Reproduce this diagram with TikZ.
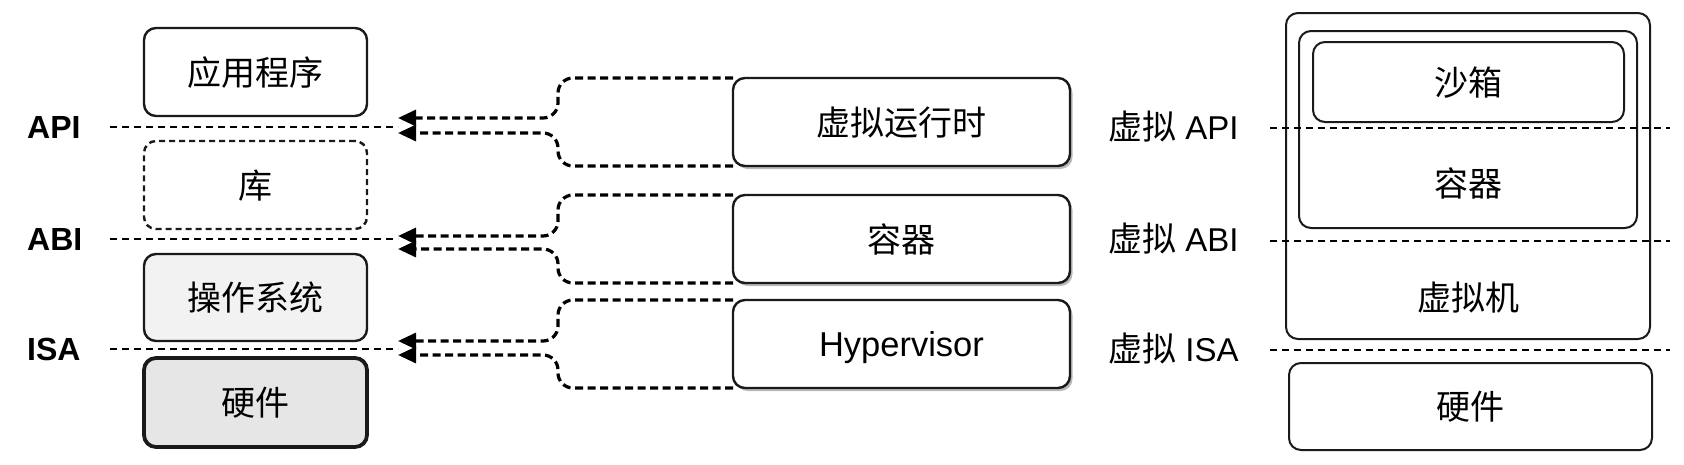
\documentclass[tikz,border=0pt]{standalone}
\usepackage{fontspec}
\setmainfont{Liberation Sans}
\newfontfamily\cjk{Noto Sans CJK SC}
\usetikzlibrary{arrows.meta,shadows}
\definecolor{osfill}{HTML}{F2F2F2}
\definecolor{hwfill}{HTML}{E6E6E6}
\definecolor{edge}{HTML}{1A1A1A}
\begin{document}
\begin{tikzpicture}[x=1pt,y=-1pt,
  txt/.style={font=\cjk\fontsize{34}{34}\selectfont, inner sep=0pt, text height=26pt, text depth=0pt},
  box/.style={txt, draw=edge, line width=2.4pt, rounded corners=12pt, outer sep=0pt},
  leftbox/.style={box, minimum width=223pt, minimum height=88pt},
  midbox/.style={box, minimum width=337pt, minimum height=88pt, fill=white,
    drop shadow={shadow xshift=2.5pt, shadow yshift=-3pt, fill=black!45, opacity=0.6}},
  rbox/.style={draw=edge, line width=2pt, rounded corners=12pt, inner sep=0pt, outer sep=0pt},
  level/.style={line width=2.2pt, dash pattern=on 7pt off 5pt},
  conn/.style={line width=3.2pt, dash pattern=on 8pt off 4.5pt, rounded corners=15pt,
    -{Triangle[length=18pt,width=16pt]}},
  lvlbold/.style={font=\bfseries\fontsize{32}{32}\selectfont, inner sep=0pt, anchor=base west},
  lvlreg/.style={font=\fontsize{33}{33}\selectfont, inner sep=0pt, anchor=base west},
]
\useasboundingbox (0,0) rectangle (1684,464);

% ---------- left stack ----------
\node[leftbox] (app) at (255.5,72) {应用程序};
\node[leftbox, dashed, dash pattern=on 6pt off 4pt] (lib) at (255.5,185) {库};
\node[leftbox, fill=osfill, minimum height=87pt] (os) at (255.5,297.5) {操作系统};
\node[leftbox, fill=hwfill, line width=3.8pt, minimum height=89pt] (hw) at (255.5,402.5) {硬件};

\node[lvlbold] (lapi) at (27,138.5) {API};
\node[lvlbold] (labi) at (27,250.5) {ABI};
\node[lvlbold] (lisa) at (27,360.5) {ISA};

\coordinate (apiL) at (110,127); \coordinate (apiR) at (398,127);
\coordinate (abiL) at (110,239); \coordinate (abiR) at (398,239);
\coordinate (isaL) at (110,349); \coordinate (isaR) at (398,349);
\draw[level] (apiL) -- (apiR);
\draw[level] (abiL) -- (abiR);
\draw[level] (isaL) -- (isaR);

% ---------- middle ----------
\node[midbox] (rt) at (901.5,122) {虚拟运行时};
\node[midbox] (ct) at (901.5,239) {容器};
\node[midbox, font=\fontsize{34.5}{34.5}\selectfont, text height=24.7pt] (hv) at (901.5,344) {Hypervisor};

\coordinate (knee) at (558,0);
\coordinate (apiU) at (398,118); \coordinate (apiD) at (398,133);
\coordinate (abiU) at (398,236); \coordinate (abiD) at (398,249);
\coordinate (isaU) at (398,341); \coordinate (isaD) at (398,355);

\draw[conn] (rt.north west) -- (rt.north west -| knee) |- (apiU);
\draw[conn] (rt.south west) -- (rt.south west -| knee) |- (apiD);
\draw[conn] (ct.north west) -- (ct.north west -| knee) |- (abiU);
\draw[conn] (ct.south west) -- (ct.south west -| knee) |- (abiD);
\draw[conn] (hv.north west) -- (hv.north west -| knee) |- (isaU);
\draw[conn] (hv.south west) -- (hv.south west -| knee) |- (isaD);

% ---------- right labels ----------
\node[lvlreg] (vapi) at (1108,139) {{\cjk\fontsize{34}{34}\selectfont 虚拟} API};
\node[lvlreg] (vabi) at (1108,251) {{\cjk\fontsize{34}{34}\selectfont 虚拟} ABI};
\node[lvlreg] (visa) at (1108,361) {{\cjk\fontsize{34}{34}\selectfont 虚拟} ISA};

% ---------- right stack ----------
\node[rbox, minimum width=364pt, minimum height=326pt] (vm) at (1468,176) {};
\node[rbox, minimum width=338pt, minimum height=197pt] (cont) at (1468,129.5) {};
\node[rbox, minimum width=311pt, minimum height=80pt] (sbx) at (1468.5,82) {};
\node[rbox, txt, minimum width=363pt, minimum height=87pt] (rhw) at (1470.5,406.5) {硬件};

\node[txt] (tsbx) at (1468,82) {沙箱};
\node[txt] (tcont) at (1468,183) {容器};
\node[txt] (tvm) at (1468,297) {虚拟机};

\coordinate (rapiL) at (1270,128); \coordinate (rapiR) at (1670,128);
\coordinate (rabiL) at (1270,241); \coordinate (rabiR) at (1670,241);
\coordinate (risaL) at (1270,350); \coordinate (risaR) at (1670,350);
\draw[level] (rapiL) -- (rapiR);
\draw[level] (rabiL) -- (rabiR);
\draw[level] (risaL) -- (risaR);
\end{tikzpicture}
\end{document}
